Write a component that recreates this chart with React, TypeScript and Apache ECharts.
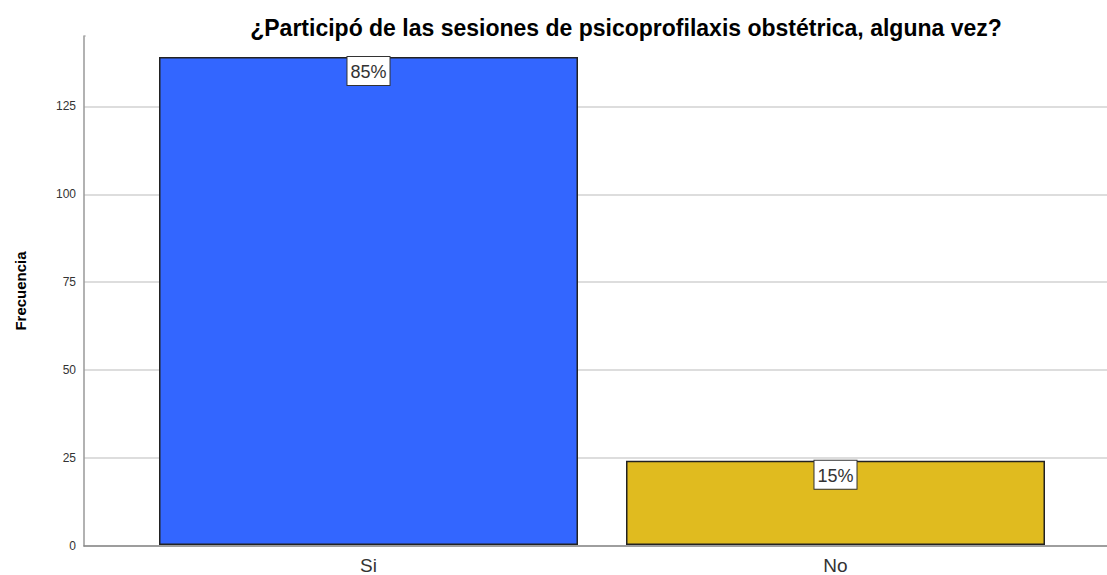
import React, { useEffect, useRef } from "react";
import * as echarts from "echarts";

const categories = ["Si", "No"];
const counts = [139, 24];
const barColors = ["#3366ff", "#e0bb1f"];
const yTicks = { min: 0, max: 145, interval: 25 };
const titleText = "¿Participó de las sesiones de psicoprofilaxis obstétrica, alguna vez?";
const yName = "Frecuencia";

export default function App() {
  const ref = useRef<HTMLDivElement>(null);
  useEffect(() => {
    if (!ref.current) return;
    const chart = echarts.init(ref.current, null, { renderer: "svg" });
    const total = counts.reduce((a, b) => a + b, 0);
    const font = "Liberation Sans, Arial, sans-serif";
    chart.setOption({
      animation: false,
      title: {
        text: titleText,
        left: 621,
        textAlign: "center",
        top: 11,
        z: 20,
        textStyle: { fontFamily: font, fontSize: 23, fontWeight: "bold", color: "#000" },
      },
      grid: [
        { left: 84, right: 0, top: 36, bottom: 29 },
        { left: 135, right: 38, top: 36, bottom: 29 },
      ],
      graphic: [
        {
          type: "rect",
          left: 86,
          top: 34,
          shape: { width: 1021, height: 4 },
          style: { fill: "#fff" },
          z: 1,
        },
      ],
      xAxis: [
        {
          gridIndex: 0,
          type: "category",
          data: [""],
          axisLine: { lineStyle: { color: "#888", width: 1.5 } },
          axisTick: { show: false },
          axisLabel: { show: false },
        },
        {
          gridIndex: 1,
          type: "category",
          data: categories,
          axisLine: { show: false },
          axisTick: { show: false },
          axisLabel: { fontFamily: font, fontSize: 19, color: "#333", margin: 11 },
        },
      ],
      yAxis: [
        {
          gridIndex: 0,
          type: "value",
          min: yTicks.min,
          max: yTicks.max,
          interval: yTicks.interval,
          name: yName,
          nameLocation: "middle",
          nameGap: 56,
          nameRotate: 90,
          nameTextStyle: { fontFamily: font, fontSize: 15, fontWeight: "bold", color: "#000" },
          axisLine: { show: true, lineStyle: { color: "#999", width: 1.5 } },
          axisTick: { show: true, length: 0 },
          axisLabel: {
            fontFamily: font,
            fontSize: 12,
            color: "#333",
            margin: 8,
            showMaxLabel: false,
          },
          splitLine: { show: true, lineStyle: { color: "#d2d2d2", width: 1.5 } },
        },
        {
          gridIndex: 1,
          type: "value",
          min: yTicks.min,
          max: yTicks.max,
          interval: yTicks.interval,
          show: false,
          splitLine: { show: false },
        },
      ],
      series: [
        {
          type: "bar",
          xAxisIndex: 1,
          yAxisIndex: 1,
          barWidth: 419,
          z: 20,
          data: counts.map((v, i) => ({
            value: v,
            itemStyle: { color: barColors[i], borderColor: "#222", borderWidth: 1.5 },
          })),
          label: {
            show: true,
            position: "insideTop",
            distance: 0,
            formatter: (p: any) => Math.round((p.value / total) * 100) + "%",
            fontFamily: font,
            fontSize: 18,
            color: "#333",
            backgroundColor: "#fff",
            borderColor: "#333",
            borderWidth: 1,
            padding: [6, 3, 4, 3],
          },
        },
      ],
    });
    return () => chart.dispose();
  }, []);
  return <div ref={ref} style={{ width: 1107, height: 575, position: "absolute", left: 0, top: 0 }} />;
}
